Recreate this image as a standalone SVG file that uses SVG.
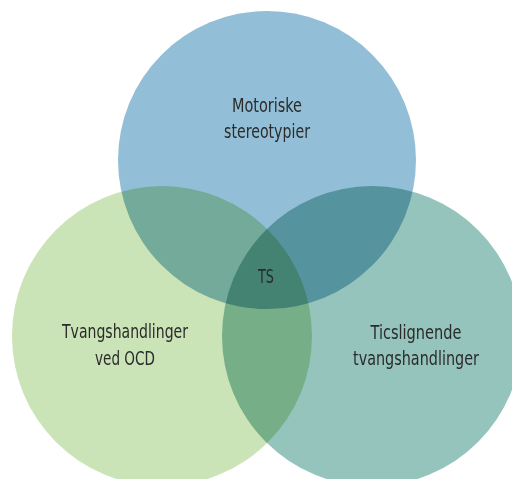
<svg xmlns="http://www.w3.org/2000/svg" width="512" height="479" viewBox="0 0 512 479">
<style>
.c{mix-blend-mode:multiply}
.t{font-family:"DejaVu Sans Condensed","Liberation Sans Narrow","Roboto",sans-serif;font-size:19px;fill:#2b2b2b;text-anchor:middle}
</style>
<rect width="512" height="479" fill="#ffffff"/>
<g style="isolation:isolate">
<g id="motoriske"><circle class="c" cx="267" cy="160" r="149" fill="#92bfd7"/></g>
<g id="tvangshandlinger"><circle class="c" cx="162" cy="336" r="150" fill="#cae3b7"/></g>
<g id="ticslignende"><circle class="c" cx="372" cy="336" r="150" fill="#94c4bc"/></g>
</g>
<g id="labels">
<text class="t" x="267" y="112" textLength="70" lengthAdjust="spacingAndGlyphs">Motoriske</text>
<text class="t" x="267" y="138" textLength="86" lengthAdjust="spacingAndGlyphs">stereotypier</text>
<text class="t" x="125" y="338" textLength="126" lengthAdjust="spacingAndGlyphs">Tvangshandlinger</text>
<text class="t" x="125" y="365" textLength="60" lengthAdjust="spacingAndGlyphs">ved OCD</text>
<text class="t" x="416" y="339" textLength="91" lengthAdjust="spacingAndGlyphs">Ticslignende</text>
<text class="t" x="416" y="365" textLength="126" lengthAdjust="spacingAndGlyphs">tvangshandlinger</text>
<text class="t" x="266" y="283" textLength="16" lengthAdjust="spacingAndGlyphs">TS</text>
</g>
<g id="connectors"></g>
</svg>
